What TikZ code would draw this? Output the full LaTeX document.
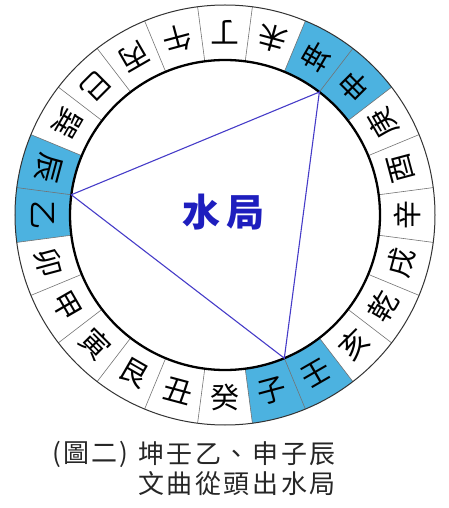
\documentclass[tikz,border=0pt]{standalone}
\usepackage{fontspec}
\newfontfamily\cjk{Noto Sans CJK TC}
\usetikzlibrary{positioning}

\definecolor{mtn_hl}{RGB}{76,178,224}
\definecolor{tri_line}{RGB}{70,60,200}
\definecolor{ju_text}{RGB}{30,30,190}
\colorlet{cap_text}{black!85}

\tikzset{
  mtn/.style={font=\cjk\fontsize{29}{29}\selectfont, inner sep=0pt, text=black},
  caption/.style={font=\cjk\fontsize{26}{26}\selectfont\addfontfeature{LetterSpace=10},
    inner sep=0pt, text=cap_text},
}

\begin{document}
\begin{tikzpicture}[x=1pt, y=1pt]
    \useasboundingbox (-225,-293) rectangle (224,215);

    % highlighted mountains
    \fill[mtn_hl] (37.5:155) arc[start angle=37.5, end angle=67.5, radius=155]
      -- (67.5:210) arc[start angle=67.5, end angle=37.5, radius=210] -- cycle;
    \fill[mtn_hl] (157.5:155) arc[start angle=157.5, end angle=187.5, radius=155]
      -- (187.5:210) arc[start angle=187.5, end angle=157.5, radius=210] -- cycle;
    \fill[mtn_hl] (-82.5:155) arc[start angle=-82.5, end angle=-52.5, radius=155]
      -- (-52.5:210) arc[start angle=-52.5, end angle=-82.5, radius=210] -- cycle;

    % sector lines
    \foreach \a in {0,...,23}
      \draw[black!55, line width=0.6pt] (7.5+15*\a:155) -- (7.5+15*\a:210);

    \draw[black!80, line width=1pt] (0,0) circle[radius=210];
    \draw[black, line width=2.3pt] (0,0) circle[radius=155];

    % water frame
    \coordinate (v_kun) at (52.5:155);
    \coordinate (v_chen) at (172.5:155);
    \coordinate (v_ren) at (-67.5:155);
    \draw[tri_line, line width=1.1pt] (v_kun) -- (v_chen) -- (v_ren) -- cycle;

    \node[font=\cjk\bfseries\fontsize{38}{38}\selectfont, text=ju_text, inner sep=0pt]
      (ju) at (-1,3) {水\hspace{6pt}局};

    \node[mtn, rotate=180] (ding) at (90:182.5) {丁};
    \node[mtn, rotate=165] (wei) at (75:182.5) {未};
    \node[mtn, rotate=150] (kun) at (60:182.5) {坤};
    \node[mtn, rotate=135] (shen) at (45:182.5) {申};
    \node[mtn, rotate=120] (geng) at (30:182.5) {庚};
    \node[mtn, rotate=105] (you) at (15:182.5) {酉};
    \node[mtn, rotate=90] (xin) at (0:182.5) {辛};
    \node[mtn, rotate=75] (xu) at (-15:182.5) {戌};
    \node[mtn, rotate=60] (qian) at (-30:182.5) {乾};
    \node[mtn, rotate=45] (hai) at (-45:182.5) {亥};
    \node[mtn, rotate=30] (ren) at (-60:182.5) {壬};
    \node[mtn, rotate=15] (zi) at (-75:182.5) {子};
    \node[mtn, rotate=0] (gui) at (-90:182.5) {癸};
    \node[mtn, rotate=-15] (chou) at (-105:182.5) {丑};
    \node[mtn, rotate=-30] (gen) at (-120:182.5) {艮};
    \node[mtn, rotate=-45] (yin) at (-135:182.5) {寅};
    \node[mtn, rotate=-60] (jia) at (-150:182.5) {甲};
    \node[mtn, rotate=-75] (mao) at (-165:182.5) {卯};
    \node[mtn, rotate=-90] (yi) at (180:182.5) {乙};
    \node[mtn, rotate=255] (chen) at (165:182.5) {辰};
    \node[mtn, rotate=240] (xun) at (150:182.5) {巽};
    \node[mtn, rotate=225] (si) at (135:182.5) {巳};
    \node[mtn, rotate=210] (bing) at (120:182.5) {丙};
    \node[mtn, rotate=195] (wu) at (105:182.5) {午};

    % caption
    \node[caption, anchor=east] (fig) at (-96,-239) {(\hspace{2pt}圖二\hspace{2pt})};
    \node[caption, anchor=west] (capa) at (-87,-239) {坤壬乙、申子辰};
    \node[caption, anchor=west] (capb) at (-87,-269) {文曲從頭出水局};
  \end{tikzpicture}
\end{document}
